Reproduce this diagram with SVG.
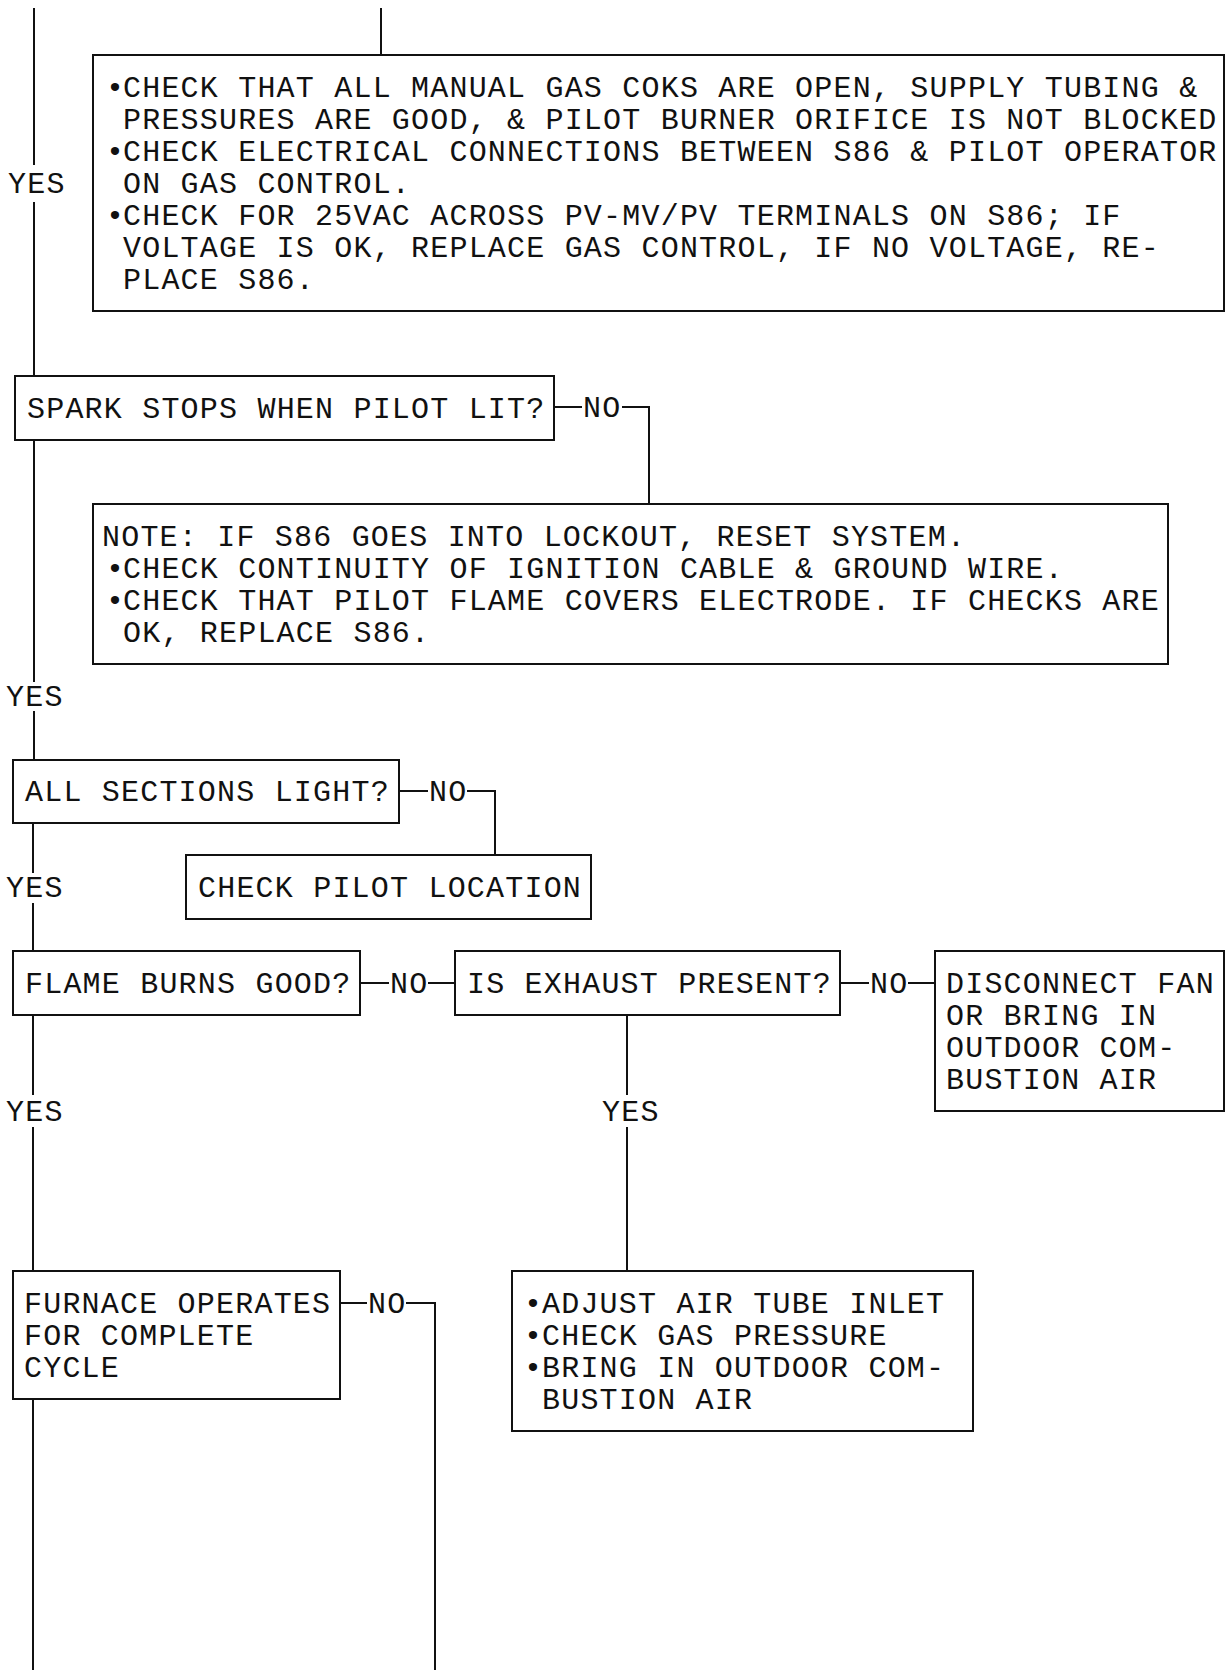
<svg xmlns="http://www.w3.org/2000/svg" width="1226" height="1670" viewBox="0 0 1226 1670">
<style>
.box{fill:#fff;stroke:#111;stroke-width:2}
.ln{fill:none;stroke:#111;stroke-width:2}
text{font-family:"Liberation Mono","Courier New",monospace;font-size:30px;letter-spacing:1.2px;fill:#111}
</style>
<rect width="1226" height="1670" fill="#fff"/>
<g id="connectors">
<path class="ln" d="M34 8V165M34 202V376"/>
<path class="ln" d="M381 8V55"/>
<path class="ln" d="M34 440V682M34 711V760"/>
<path class="ln" d="M554 407H582M622 407H649V504"/>
<path class="ln" d="M33 823V873M33 903V951"/>
<path class="ln" d="M399 791H428M467 791H495V855"/>
<path class="ln" d="M33 1015V1095M33 1127V1271"/>
<path class="ln" d="M360 983H389M428 983H455"/>
<path class="ln" d="M840 983H869M908 983H935"/>
<path class="ln" d="M627 1015V1095M627 1127V1271"/>
<path class="ln" d="M33 1399V1670"/>
<path class="ln" d="M340 1303H367M406 1303H435V1670"/>
<text x="8" y="193">YES</text>
<text x="583" y="417">NO</text>
<text x="6" y="706">YES</text>
<text x="429" y="801">NO</text>
<text x="6" y="897">YES</text>
<text x="390" y="993">NO</text>
<text x="870" y="993">NO</text>
<text x="6" y="1121">YES</text>
<text x="602" y="1121">YES</text>
<text x="368" y="1313">NO</text>
</g>
<g id="n1">
<rect class="box" x="93" y="55" width="1131" height="256"/>
<text y="97"><tspan x="106">•</tspan><tspan x="123">CHECK THAT ALL MANUAL GAS COKS ARE OPEN, SUPPLY TUBING &amp;</tspan></text>
<text x="123" y="129">PRESSURES ARE GOOD, &amp; PILOT BURNER ORIFICE IS NOT BLOCKED</text>
<text y="161"><tspan x="106">•</tspan><tspan x="123">CHECK ELECTRICAL CONNECTIONS BETWEEN S86 &amp; PILOT OPERATOR</tspan></text>
<text x="123" y="193">ON GAS CONTROL.</text>
<text y="225"><tspan x="106">•</tspan><tspan x="123">CHECK FOR 25VAC ACROSS PV-MV/PV TERMINALS ON S86; IF</tspan></text>
<text x="123" y="257">VOLTAGE IS OK, REPLACE GAS CONTROL, IF NO VOLTAGE, RE-</text>
<text x="123" y="289">PLACE S86.</text>
</g>
<g id="n2">
<rect class="box" x="15" y="376" width="539" height="64"/>
<text x="27" y="418">SPARK STOPS WHEN PILOT LIT?</text>
</g>
<g id="n3">
<rect class="box" x="93" y="504" width="1075" height="160"/>
<text x="102" y="546">NOTE: IF S86 GOES INTO LOCKOUT, RESET SYSTEM.</text>
<text y="578"><tspan x="106">•</tspan><tspan x="123">CHECK CONTINUITY OF IGNITION CABLE &amp; GROUND WIRE.</tspan></text>
<text y="610"><tspan x="106">•</tspan><tspan x="123">CHECK THAT PILOT FLAME COVERS ELECTRODE. IF CHECKS ARE</tspan></text>
<text x="123" y="642">OK, REPLACE S86.</text>
</g>
<g id="n4">
<rect class="box" x="13" y="760" width="386" height="63"/>
<text x="25" y="801">ALL SECTIONS LIGHT?</text>
</g>
<g id="n5">
<rect class="box" x="186" y="855" width="405" height="64"/>
<text x="198" y="897">CHECK PILOT LOCATION</text>
</g>
<g id="n6">
<rect class="box" x="13" y="951" width="347" height="64"/>
<text x="25" y="993">FLAME BURNS GOOD?</text>
</g>
<g id="n7">
<rect class="box" x="455" y="951" width="385" height="64"/>
<text x="467" y="993">IS EXHAUST PRESENT?</text>
</g>
<g id="n8">
<rect class="box" x="935" y="951" width="289" height="160"/>
<text x="946" y="993">DISCONNECT FAN</text>
<text x="946" y="1025">OR BRING IN</text>
<text x="946" y="1057">OUTDOOR COM-</text>
<text x="946" y="1089">BUSTION AIR</text>
</g>
<g id="n9">
<rect class="box" x="13" y="1271" width="327" height="128"/>
<text x="24" y="1313">FURNACE OPERATES</text>
<text x="24" y="1345">FOR COMPLETE</text>
<text x="24" y="1377">CYCLE</text>
</g>
<g id="n10">
<rect class="box" x="512" y="1271" width="461" height="160"/>
<text y="1313"><tspan x="524">•</tspan><tspan x="542">ADJUST AIR TUBE INLET</tspan></text>
<text y="1345"><tspan x="524">•</tspan><tspan x="542">CHECK GAS PRESSURE</tspan></text>
<text y="1377"><tspan x="524">•</tspan><tspan x="542">BRING IN OUTDOOR COM-</tspan></text>
<text x="542" y="1409">BUSTION AIR</text>
</g>
</svg>
